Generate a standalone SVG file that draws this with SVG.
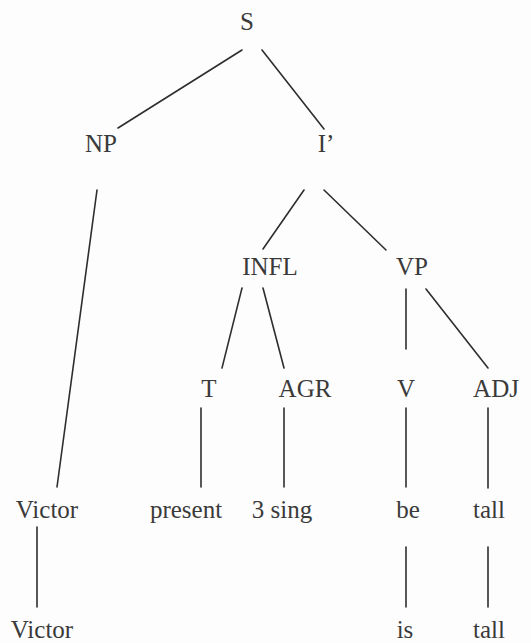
<svg xmlns="http://www.w3.org/2000/svg" width="531" height="643" viewBox="0 0 531 643">
  <style>
    .lbl { font-size: 25px; fill: #3a3a3a; text-anchor: middle; }
    .edge { stroke: #2e2e2e; stroke-width: 1.6; fill: none; stroke-linecap: round; }
  </style>
  <rect width="531" height="643" fill="#fdfdfd"/>

  <!-- tree branches -->
  <g id="connectors">
    <line class="edge" x1="242" y1="50" x2="118" y2="128"/>
    <line class="edge" x1="262" y1="50" x2="324" y2="129"/>
    <line class="edge" x1="97" y1="190" x2="57" y2="487"/>
    <line class="edge" x1="304" y1="190" x2="263" y2="249"/>
    <line class="edge" x1="324" y1="190" x2="386" y2="250"/>
    <line class="edge" x1="242" y1="288" x2="222" y2="368"/>
    <line class="edge" x1="263" y1="288" x2="284" y2="368"/>
    <line class="edge" x1="406" y1="289" x2="406" y2="349"/>
    <line class="edge" x1="426" y1="289" x2="488" y2="368"/>
    <line class="edge" x1="201" y1="408" x2="201" y2="487"/>
    <line class="edge" x1="284" y1="408" x2="284" y2="487"/>
    <line class="edge" x1="406" y1="408" x2="406" y2="487"/>
    <line class="edge" x1="488" y1="408" x2="488" y2="488"/>
    <line class="edge" x1="37" y1="527" x2="37" y2="607"/>
    <line class="edge" x1="406" y1="547" x2="406" y2="607"/>
    <line class="edge" x1="488" y1="547" x2="488" y2="607"/>
  </g>

  <g font-family="Liberation Serif, DejaVu Serif, serif">
    <!-- category labels -->
    <g id="S"><text class="lbl" x="247" y="30">S</text></g>
    <g id="NP"><text class="lbl" x="101" y="152">NP</text></g>
    <g id="Ibar"><text class="lbl" x="326" y="152">I’</text></g>
    <g id="INFL"><text class="lbl" x="270" y="275">INFL</text></g>
    <g id="VP"><text class="lbl" x="412" y="275">VP</text></g>
    <g id="T"><text class="lbl" x="209" y="397">T</text></g>
    <g id="AGR"><text class="lbl" x="305" y="397">AGR</text></g>
    <g id="V"><text class="lbl" x="406" y="397">V</text></g>
    <g id="ADJ"><text class="lbl" x="496" y="397">ADJ</text></g>

    <!-- underlying forms -->
    <g id="victor1"><text class="lbl" x="47" y="518">Victor</text></g>
    <g id="present"><text class="lbl" x="186" y="518">present</text></g>
    <g id="sing3"><text class="lbl" x="282" y="518">3 sing</text></g>
    <g id="be"><text class="lbl" x="408" y="518">be</text></g>
    <g id="tall1"><text class="lbl" x="489" y="518">tall</text></g>

    <!-- surface forms -->
    <g id="victor2"><text class="lbl" x="42" y="638">Victor</text></g>
    <g id="is"><text class="lbl" x="405" y="638">is</text></g>
    <g id="tall2"><text class="lbl" x="489" y="638">tall</text></g>
  </g>
</svg>
